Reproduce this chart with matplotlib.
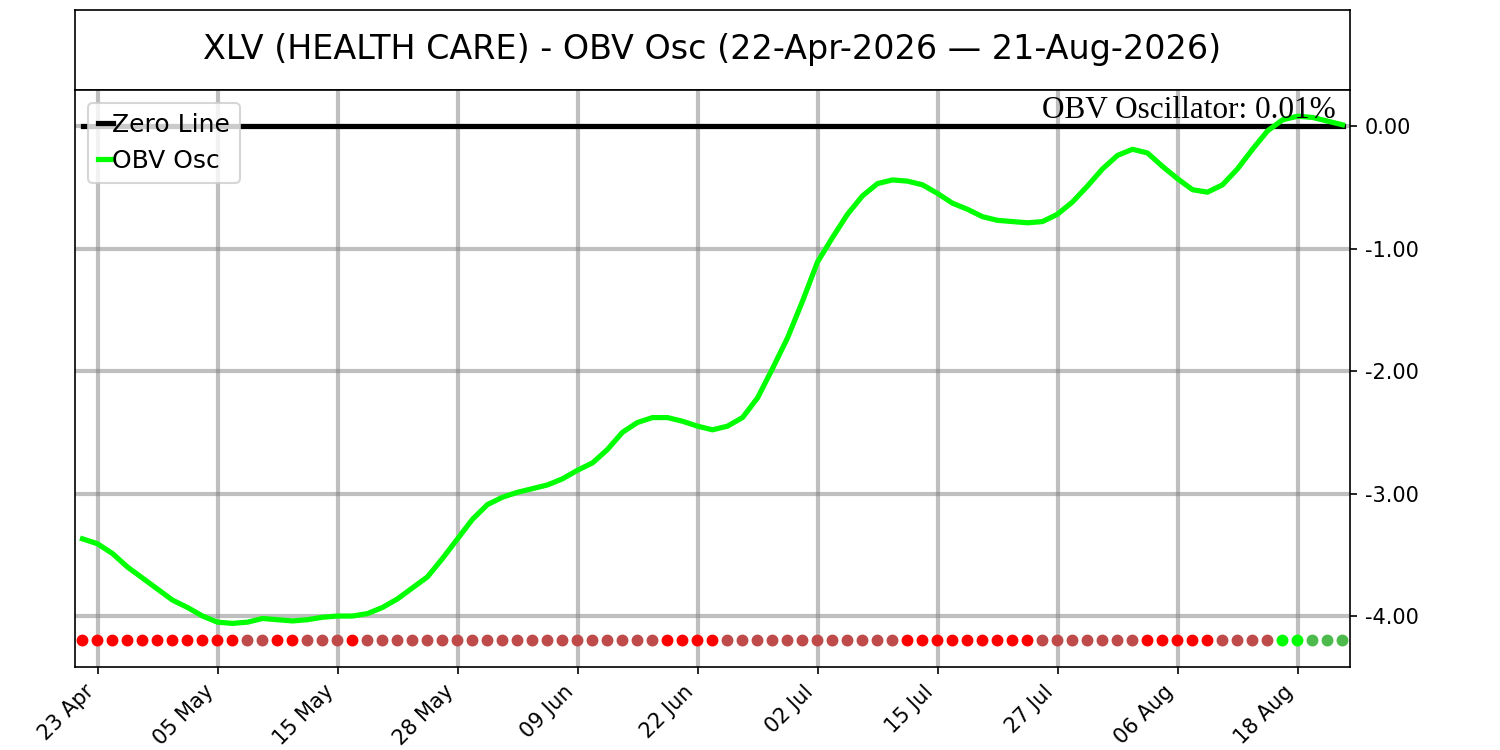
import matplotlib
matplotlib.use("Agg")
import matplotlib.pyplot as plt
import matplotlib.ticker as mticker
import numpy as np
import pandas as pd

# trading days 22-Apr-2026 .. 21-Aug-2026 (market holidays removed)
HOLIDAYS = ["2026-05-25", "2026-06-19", "2026-07-03"]
dates = pd.bdate_range("2026-04-22", "2026-08-21")
dates = dates[~dates.isin(pd.to_datetime(HOLIDAYS))]

obv_osc = [
    -3.37, -3.41, -3.49, -3.60, -3.69, -3.78, -3.87, -3.93, -4.00, -4.05,
    -4.06, -4.05, -4.02, -4.03, -4.04, -4.03, -4.01, -4.00, -4.00, -3.98,
    -3.93, -3.86, -3.77, -3.68, -3.53, -3.37, -3.21, -3.09, -3.03, -2.99,
    -2.96, -2.93, -2.88, -2.81, -2.75, -2.64, -2.50, -2.42, -2.38, -2.38,
    -2.41, -2.45, -2.48, -2.45, -2.38, -2.22, -1.98, -1.73, -1.43, -1.11,
    -0.91, -0.72, -0.57, -0.47, -0.44, -0.45, -0.48, -0.55, -0.63, -0.68,
    -0.74, -0.77, -0.78, -0.79, -0.78, -0.72, -0.62, -0.49, -0.35, -0.24,
    -0.19, -0.22, -0.33, -0.43, -0.52, -0.54, -0.48, -0.35, -0.19, -0.04,
    0.05, 0.08, 0.07, 0.04, 0.01,
]

# momentum state per bar: r = falling below zero, b = rising below zero,
# G = rising above zero, g = falling above zero
states = ("r" * 11 + "b" * 2 + "r" * 2 + "b" * 3 + "r" + "b" * 20 + "r" * 4
          + "b" * 12 + "r" * 9 + "b" * 7 + "r" * 5 + "b" * 4 + "G" * 2 + "g" * 3)

STATE_COLORS = {"r": "#ff0000", "b": "#bf4a4a", "G": "#00ff00", "g": "#4cbb4c"}
DOT_LEVEL = -4.2
TICK_STEP = 8

x = np.arange(len(obv_osc))
dot_colors = [STATE_COLORS[s] for s in states]

fig = plt.figure(figsize=(10, 5), dpi=150)
ax_title = fig.add_axes([0.05, 0.88, 0.85, 0.107])
ax = fig.add_axes([0.05, 0.111, 0.85, 0.769])

ax_title.set_xticks([])
ax_title.set_yticks([])
ax_title.text(0.5, 0.5, "XLV (HEALTH CARE) - OBV Osc (22-Apr-2026 \u2014 21-Aug-2026)",
              ha="center", va="center", fontsize=16, transform=ax_title.transAxes)

ax.plot(x, np.zeros(len(x)), color="black", lw=2.5, label="Zero Line")
ax.plot(x, obv_osc, color="#00ff00", lw=2.5, label="OBV Osc")
ax.scatter(x, np.full(len(x), DOT_LEVEL), c=dot_colors, s=22, zorder=3)

ax.set_xlim(-0.5, len(x) - 0.5)
tick_pos = x[1::TICK_STEP]
ax.set_xticks(tick_pos)
ax.set_xticklabels([dates[i].strftime("%d %b") for i in tick_pos], rotation=45, ha="right")
ax.set_yticks([-4, -3, -2, -1, 0])
ax.yaxis.set_major_formatter(mticker.FormatStrFormatter("%.2f"))
ax.yaxis.tick_right()
ax.grid(True, color="gray", alpha=0.5, lw=2)

ax.text(0.989, 0.99, "OBV Oscillator: %.2f%%" % obv_osc[-1], transform=ax.transAxes,
        ha="right", va="top", fontsize=15, family="Liberation Serif")

ax.legend(loc="upper left", fontsize=12, handlelength=0.6, handletextpad=0.0,
          borderaxespad=0.5)

fig.savefig("out.png")
